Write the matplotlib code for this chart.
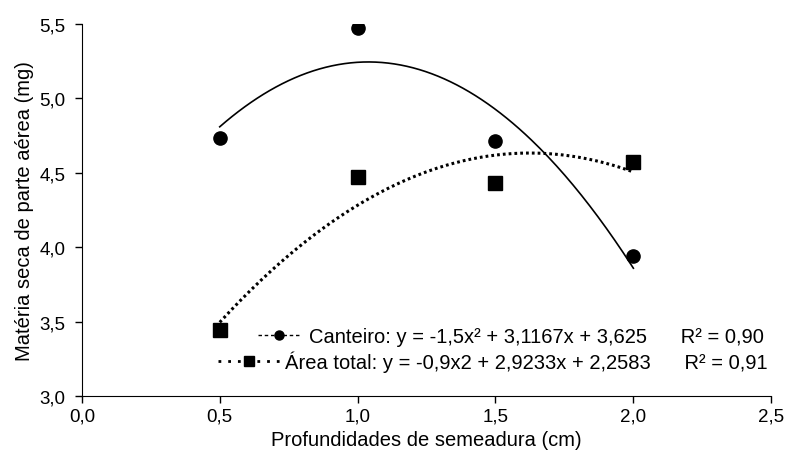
import numpy as np
import matplotlib
matplotlib.use('Agg')
import matplotlib.pyplot as plt
from matplotlib.lines import Line2D

plt.rcParams['font.family'] = ['Liberation Sans', 'DejaVu Sans']
plt.rcParams['font.size'] = 14

# profundidades (cm) e matéria seca (mg)
prof = [0.5, 1.0, 1.5, 2.0]
canteiro = [4.73, 5.47, 4.71, 3.94]
area_total = [3.44, 4.47, 4.43, 4.57]

# coeficientes das regressões (a, b, c) -> a*x^2 + b*x + c
coef_canteiro = [-1.5, 3.1167, 3.625]
coef_area = [-0.9, 2.9233, 2.2583]

lab_canteiro = 'Canteiro: y = -1,5x² + 3,1167x + 3,625      R² = 0,90'
lab_area = 'Área total: y = -0,9x2 + 2,9233x + 2,2583      R² = 0,91'

xticks = [0.0, 0.5, 1.0, 1.5, 2.0, 2.5]
yticks = [3.0, 3.5, 4.0, 4.5, 5.0, 5.5]

fig = plt.figure(figsize=(7.87, 4.6), dpi=100)
ax = fig.add_axes([0.104, 0.137, 0.876, 0.809])

xs = np.linspace(0.5, 2.0, 200)
ax.plot(xs, np.polyval(coef_canteiro, xs), color='black', lw=1.2)
ax.plot(xs, np.polyval(coef_area, xs), color='black', lw=2.2, linestyle=(0, (0.9, 1.0)))

ax.plot(prof, canteiro, 'o', color='black', ms=9.5)
ax.plot(prof, area_total, 's', color='black', ms=9.5)

# legendas separadas, alinhadas pela direita
h1 = Line2D([], [], color='black', lw=1, linestyle=(0, (2.5, 2)), marker='o', ms=6.5)
h2 = Line2D([], [], color='black', lw=2, linestyle=(0, (1, 2.5)), marker='s', ms=6.5)
leg1 = ax.legend([h1], [lab_canteiro], loc='center right',
                 bbox_to_anchor=(764 / 787, 1 - 338 / 460), bbox_transform=fig.transFigure,
                 frameon=False, handlelength=2.1, handletextpad=0.45,
                 borderpad=0, borderaxespad=0, fontsize=14.5)
ax.add_artist(leg1)
ax.legend([h2], [lab_area], loc='center right',
          bbox_to_anchor=(768 / 787, 1 - 362 / 460), bbox_transform=fig.transFigure,
          frameon=False, handlelength=3.1, handletextpad=0.25,
          borderpad=0, borderaxespad=0, fontsize=14.5)

ax.set_xlim(0, 2.5)
ax.set_ylim(3.0, 5.5)
ax.set_xticks(xticks)
ax.set_yticks(yticks)
ax.set_xticklabels([f'{v:.1f}'.replace('.', ',') for v in xticks])
ax.set_yticklabels([f'{v:.1f}'.replace('.', ',') for v in yticks])
ax.tick_params(direction='out', length=5, width=1, labelsize=13.5)
ax.tick_params(axis='y', pad=7)
ax.spines['top'].set_visible(False)
ax.spines['right'].set_visible(False)
ax.set_xlabel('Profundidades de semeadura (cm)', fontsize=14.5, labelpad=4)
ax.set_ylabel('Matéria seca de parte aérea (mg)', fontsize=14.5, labelpad=4)

fig.savefig('out.png', dpi=100)
